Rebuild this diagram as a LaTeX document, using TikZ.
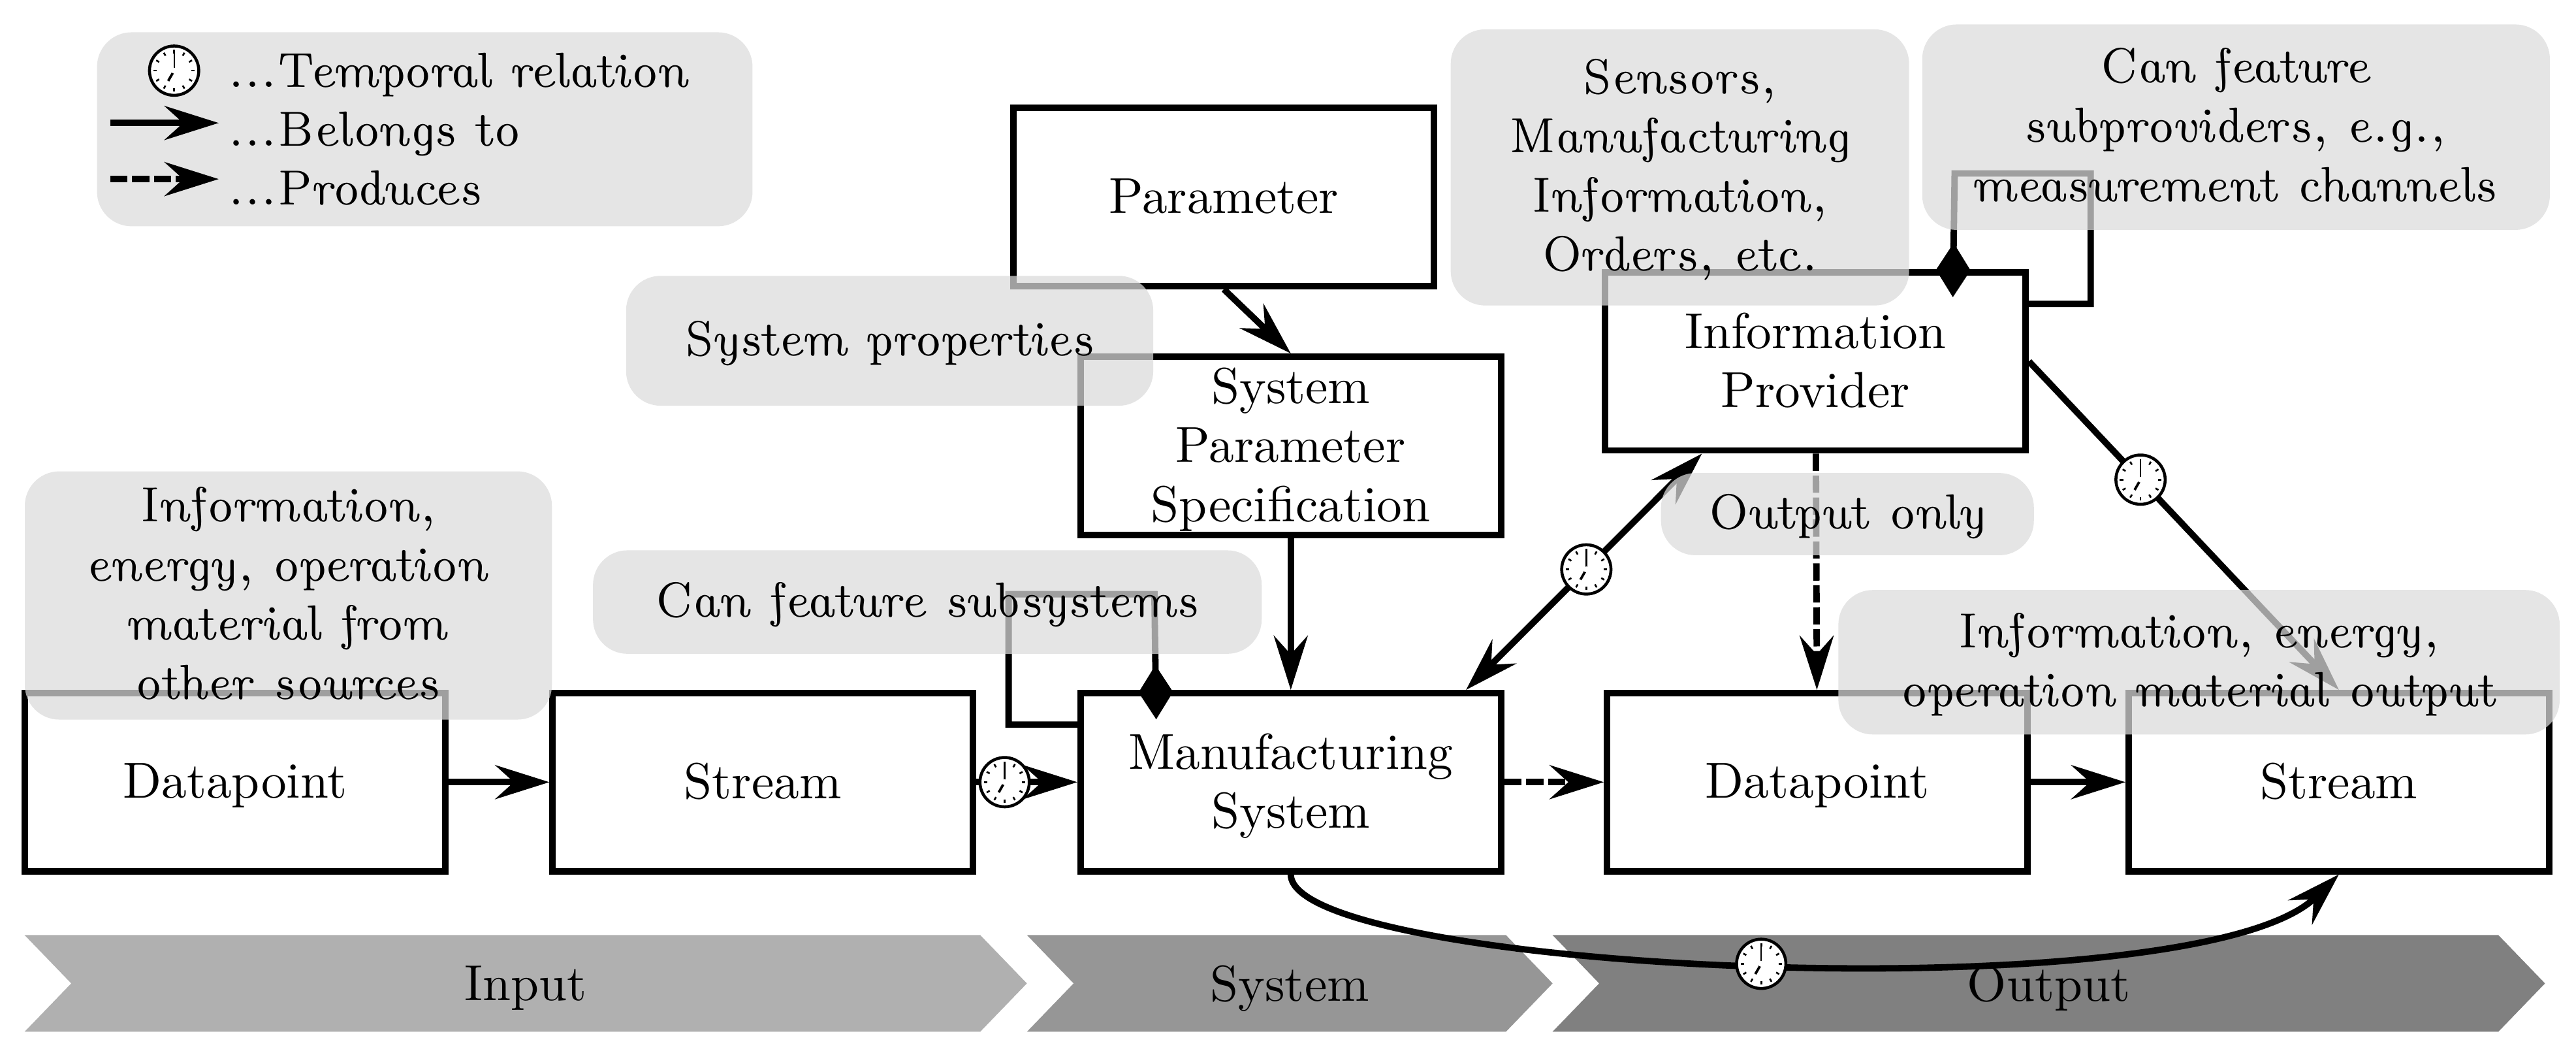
\documentclass[tikz,border=0pt]{standalone}
\usetikzlibrary{arrows.meta,positioning,shapes.symbols}
\tikzset{
  >={Stealth[length=11pt,width=6.9pt,inset=3.8pt]},
  block/.style={draw,line width=1.3pt,fill=white,minimum width=3cm,minimum height=1.27cm,inner sep=0pt,align=center,text depth=0.5pt,font=\fontsize{10.25pt}{12pt}\selectfont},
  note/.style={fill=black!14,fill opacity=0.73,text opacity=1,rounded corners=7pt,inner sep=0pt,align=center,text depth=1pt,font=\fontshape{ui}\selectfont},
  phase/.style={signal,signal to=east,signal from=west,signal pointer angle=92,inner sep=0pt,minimum height=0.69cm,text depth=0pt,font=\fontsize{10.25pt}{12pt}\selectfont},
  timemark/.style={circle,draw,solid,fill=white,line width=0.6pt,minimum size=10pt,inner sep=0pt,
    path picture={
      \foreach \t in {0,30,...,330}
        \draw[-,line width=0.35pt] (path picture bounding box.center) ++(\t:3.5pt) -- ++(\t:0.7pt);
      \draw[-,line width=0.3pt] (path picture bounding box.center) -- ++(90:3.6pt);
      \draw[-,line width=0.5pt] (path picture bounding box.center) -- ++(-120:2.4pt);
      \fill (path picture bounding box.center) circle (0.6pt);
    }},
  rel/.style={->,line width=1.3pt},
  prod/.style={->,line width=1.3pt,dash pattern=on 3.5pt off 0.95pt},
  sub/.style={-{Diamond[length=11pt,width=7pt]},line width=1.3pt}
}
\begin{document}
\begin{tikzpicture}
  \useasboundingbox (0,0) rectangle (18.375,7.522);
  % phases
  \node[phase,fill=black!31,minimum width=7.15cm] (input) at (3.75,0.51) {Input};
  \node[phase,fill=black!41,minimum width=3.75cm] (system) at (9.2,0.51) {System};
  \node[phase,fill=black!50,minimum width=7.08cm] (output) at (14.614,0.51) {Output};
  % blocks
  \node[block] (dpin) at (1.676,1.945) {Datapoint};
  \node[block,right=0.72cm of dpin] (strin) {Stream};
  \node[block,right=0.72cm of strin] (ms) {Manufacturing\\System};
  \node[block,right=0.71cm of ms] (dpout) {Datapoint};
  \node[block,right=0.675cm of dpout] (strout) {Stream};
  \node[block] (param) at (8.73,6.117) {Parameter};
  \node[block,above=1.083cm of ms] (spec) {System\\Parameter\\Specification};
  \node[block] (ip) at (12.95,4.945) {Information\\Provider};
  % relations
  \draw[rel] (dpin) -- (strin);
  \draw[rel] (strin) -- node[timemark,pos=0.28] (t1) {} (ms);
  \draw[rel] (spec) -- (ms);
  \draw[rel] (param.south) -- (spec.north);
  \draw[prod] (ms) -- (dpout);
  \draw[rel] (dpout) -- (strout);
  \draw[prod] (ip) -- (dpout);
  \draw[<->,line width=1.3pt] ([xshift=1.25cm]ms.north) -- node[timemark,pos=0.51] (t2) {} ([xshift=-0.81cm]ip.south);
  \draw[rel] (ip.east) -- node[timemark,pos=0.36] (t3) {} (strout.north);
  \draw[rel] (ms.south) .. controls +(0,-0.7) and +(-1.02,-1) .. node[timemark,pos=0.5] (t4) {} (strout.south);
  % subsystems
  \draw[sub] ([yshift=0.41cm]ms.west) -- ++(-0.49,0) |- ++(1.04,0.93) -- ([xshift=-0.96cm,yshift=-0.21cm]ms.north);
  \draw[sub] ([yshift=0.41cm]ip.east) -- ++(0.44,0) |- ++(-0.97,0.93) -- ([xshift=0.98cm,yshift=-0.2cm]ip.north);
  % notes
  \node[note,minimum width=4.676cm,minimum height=1.383cm] (legend) at (3.03,6.6) {};
  \node[note,minimum width=3.76cm,minimum height=0.926cm] (props) at (6.346,5.092) {System properties};
  \node[note,minimum width=4.77cm,minimum height=0.738cm] (subs) at (6.615,3.229) {Can feature subsystems};
  \node[note,minimum width=3.76cm,minimum height=1.77cm] (src) at (2.057,3.276) {Information,\\energy, operation\\material from\\other sources};
  \node[note,minimum width=3.27cm,minimum height=1.969cm] (sens) at (11.983,6.328) {Sensors,\\Manufacturing\\Information,\\Orders, etc.};
  \node[note,minimum width=4.477cm,minimum height=1.465cm] (prov) at (15.95,6.615) {Can feature\\subproviders, e.g.,\\measurement channels};
  \node[note,minimum width=2.66cm,minimum height=0.586cm] (only) at (13.178,3.856) {Output only};
  \node[note,minimum width=5.145cm,minimum height=1.03cm] (mat) at (15.686,2.8) {Information, energy,\\operation material output};
  % legend
  \node[timemark] (ltime) at (1.242,7.018) {};
  \coordinate (la) at (0.785,6.645);
  \coordinate (lb) at (1.56,6.645);
  \coordinate (lc) at (0.785,6.245);
  \coordinate (ld) at (1.56,6.245);
  \draw[rel] (la) -- (lb);
  \draw[prod] (lc) -- (ld);
  \node[anchor=base west,inner sep=0pt,font=\fontshape{ui}\selectfont] (l1) at (1.62,6.90) {...Temporal relation};
  \node[anchor=base west,inner sep=0pt,font=\fontshape{ui}\selectfont] (l2) at (1.62,6.48) {...Belongs to};
  \node[anchor=base west,inner sep=0pt,font=\fontshape{ui}\selectfont] (l3) at (1.62,6.06) {...Produces};
\end{tikzpicture}
\end{document}
